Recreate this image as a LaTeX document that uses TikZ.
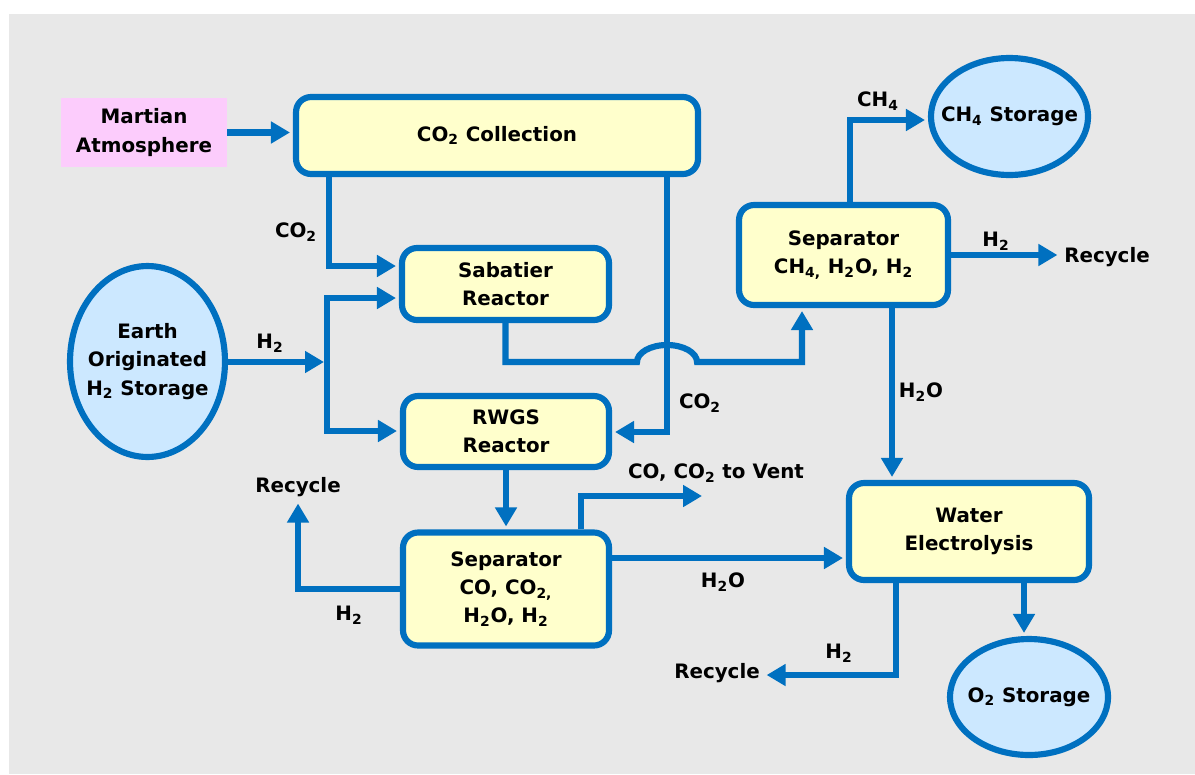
\documentclass[tikz,border=0pt]{standalone}
\usepackage{fontspec}
\setmainfont{DejaVu Sans}
\usetikzlibrary{shapes.geometric,arrows.meta}
\definecolor{pipe}{HTML}{0070C0}
\definecolor{unit}{HTML}{FFFFCC}
\definecolor{tank}{HTML}{CCE8FF}
\definecolor{atmo}{HTML}{FCCCFC}
\definecolor{back}{HTML}{E8E8E8}

\begin{document}
\begin{tikzpicture}[x=0.02cm, y=-0.02cm,
    font=\fontsize{11.3}{16}\selectfont\bfseries,
    unitbox/.style={draw=pipe, line width=3.5pt, fill=unit, rounded corners=0.3cm, inner sep=0pt, align=center},
    tankel/.style={ellipse, draw=pipe, line width=3.5pt, fill=tank, inner sep=0pt},
    flow/.style={draw=pipe, line width=3.5pt, -{Triangle[length=0.38cm,width=0.42cm]}, shorten >=1.7pt},
    both/.style={flow, {Triangle[length=0.38cm,width=0.42cm]}-{Triangle[length=0.38cm,width=0.42cm]}, shorten <=1.7pt},
    lbl/.style={inner sep=2pt}]
      \useasboundingbox (0,0) rectangle (1195,774);
      \fill[back] (9,14) rectangle (1195,774);

      \node[fill=atmo, minimum width=3.32cm, minimum height=1.38cm, inner sep=0pt, align=center] (mars) at (144,132.5) {Martian\\Atmosphere};
      \node[unitbox, minimum width=8.04cm, minimum height=1.54cm] (co2c) at (497,135.5) {CO\textsubscript{2} Collection};
      \node[unitbox, minimum width=4.14cm, minimum height=1.44cm] (sab) at (505.5,284) {Sabatier\\Reactor};
      \node[unitbox, minimum width=4.12cm, minimum height=1.42cm] (rwgs) at (506,431.5) {RWGS\\Reactor};
      \node[unitbox, minimum width=4.12cm, minimum height=2.26cm] (sepa) at (506,589) {Separator\\CO, CO\textsubscript{2,}\\H\textsubscript{2}O, H\textsubscript{2}};
      \node[unitbox, minimum width=4.18cm, minimum height=2.0cm] (sepb) at (843.5,255) {Separator\\CH\textsubscript{4,} H\textsubscript{2}O, H\textsubscript{2}};
      \node[unitbox, minimum width=4.8cm, minimum height=1.94cm] (elec) at (969,531.5) {Water\\Electrolysis};
      \node[tankel, minimum width=3.1cm, minimum height=3.82cm, label={[align=center]center:Earth\\Originated\\H\textsubscript{2} Storage}] (earth) at (147.5,361.5) {};
      \node[tankel, minimum width=3.14cm, minimum height=2.34cm, label={center:CH\textsubscript{4} Storage}] (chst) at (1009.5,116.5) {};
      \node[tankel, minimum width=3.16cm, minimum height=2.32cm, label={center:O\textsubscript{2} Storage}] (ost) at (1029,697) {};

      \node[lbl] (rcA) at (1107,257) {Recycle};
      \node[lbl] (rcB) at (298,487) {Recycle};
      \node[lbl] (rcC) at (717,673) {Recycle};

      \coordinate (cA) at (329,266);
      \coordinate (cB) at (667,432);
      \coordinate (hT) at (327,298);
      \coordinate (hJ) at (327,362);
      \coordinate (hB) at (327,431);
      \coordinate (hop) at (667,362);
      \coordinate (sUp) at (802,362);
      \coordinate (vB) at (581,496);
      \coordinate (vent) at (705,496);
      \coordinate (hw) at (700,558);
      \coordinate (cT) at (850,120);
      \coordinate (wV) at (892,400);
      \coordinate (eR) at (896,675);
      \coordinate (oV) at (1024,600);

      \draw[flow] (mars.east) -- (co2c.west |- mars.east);
      \draw[flow] (co2c.south -| cA) -- (cA) -- (sab.west |- cA);
      \draw[flow] (co2c.south -| cB) -- (cB) -- (rwgs.east |- cB);
      \draw[flow] (earth.east |- hJ) -- (hJ);
      \draw[both] (sab.west |- hT) -- (hT) -- (hB) -- (rwgs.west |- hB);
      \draw[flow] (sab.south) |- ([xshift=-0.6cm]hop) arc[start angle=180, end angle=0, x radius=0.6cm, y radius=0.34cm] -| (sepb.south -| sUp);
      \draw[flow] (rwgs.south) -- (sepa.north);
      \draw[flow] (sepa.north -| vB) -- (vB) -- (vent);
      \draw[flow] (sepa.west) -| (rcB.south);
      \draw[flow] (sepa.east |- hw) -- (elec.west |- hw);
      \draw[flow] (sepb.north -| cT) -- (cT) -- (chst.west |- cT);
      \draw[flow] (sepb.east) -- (sepb.east -| rcA.west);
      \draw[flow] (sepb.south -| wV) -- (elec.north -| wV);
      \draw[flow] (elec.south -| eR) -- (eR) -- (rcC.east |- eR);
      \draw[flow] (elec.south -| oV) -- (ost.north -| oV);

      \node[lbl] (lco2a) at (296,232) {CO\textsubscript{2}};
      \node[lbl] (lco2b) at (700,403) {CO\textsubscript{2}};
      \node[lbl] (lh2a) at (270,343) {H\textsubscript{2}};
      \node[lbl] (lvent) at (716,473) {CO, CO\textsubscript{2} to Vent};
      \node[lbl] (lh2b) at (349,615) {H\textsubscript{2}};
      \node[lbl] (lh2oa) at (723,582) {H\textsubscript{2}O};
      \node[lbl] (lch4) at (878,101) {CH\textsubscript{4}};
      \node[lbl] (lh2c) at (996,241) {H\textsubscript{2}};
      \node[lbl] (lh2ob) at (921,392) {H\textsubscript{2}O};
      \node[lbl] (lh2d) at (839,653) {H\textsubscript{2}};
\end{tikzpicture}
\end{document}
